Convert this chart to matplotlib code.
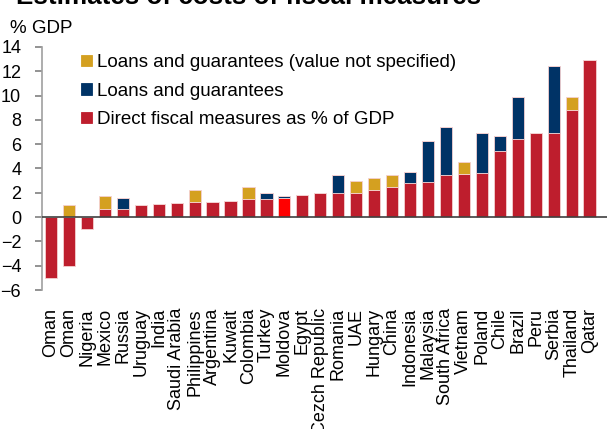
import numpy as np
import matplotlib.pyplot as plt

plt.rcParams['font.family'] = ['Liberation Sans', 'DejaVu Sans']

countries = ['Oman', 'Oman', 'Nigeria', 'Mexico', 'Russia', 'Uruguay', 'India',
             'Saudi Arabia', 'Philippines', 'Argentina', 'Kuwait', 'Colombia',
             'Turkey', 'Moldova', 'Egypt', 'Cezch Republic', 'Romania', 'UAE',
             'Hungary', 'China', 'Indonesia', 'Malaysia', 'South Africa',
             'Vietnam', 'Poland', 'Chile', 'Brazil', 'Peru', 'Serbia',
             'Thailand', 'Qatar']

# direct fiscal measures, % of GDP
direct = [-5.0, -4.0, -1.0, 0.7, 0.7, 1.0, 1.1, 1.15, 1.2, 1.25, 1.35, 1.45,
          1.45, 1.6, 1.8, 2.0, 2.0, 2.0, 2.25, 2.5, 2.8, 2.85, 3.45, 3.55,
          3.6, 5.45, 6.45, 6.95, 6.95, 8.8, 12.9]
# loans and guarantees
loans = [0, 0, 0, 0, 0.85, 0, 0, 0, 0, 0, 0, 0, 0.5, 0.1, 0, 0, 1.5, 0,
         0, 0, 0.9, 3.45, 3.95, 0, 3.35, 1.2, 3.45, 0, 5.5, 0, 0]
# loans and guarantees, value not specified
unspecified = [0, 1.0, 0, 1.0, 0, 0, 0, 0, 1.0, 0, 0, 1.05, 0, 0, 0, 0, 0,
               1.0, 1.0, 1.0, 0, 0, 0, 1.0, 0, 0, 0, 0, 0, 1.05, 0]

red = '#BE1E2D'
blue = '#003366'
gold = '#D4A020'

x = np.arange(len(countries))
direct = np.array(direct)
loans = np.array(loans)
unspecified = np.array(unspecified)
pos_base = np.clip(direct, 0, None)

fig = plt.figure(figsize=(6.07, 4.29), dpi=100)
ax = fig.add_axes([0.0692, 0.324, 0.9308, 0.5666])

w = 0.68
edge = dict(edgecolor='#F4D0D0', linewidth=0.6)
colors = [red] * len(countries)
colors[countries.index('Moldova')] = '#FF0000'
b1 = ax.bar(x, direct, w, color=colors, **edge)
b2 = ax.bar(x, loans, w, bottom=pos_base, color=blue, **edge)
b3 = ax.bar(x, unspecified, w, bottom=pos_base + loans, color=gold, **edge)

ax.set_xlim(-0.5, 30.97)
ax.set_ylim(-6, 14)
ax.set_yticks(np.arange(-6, 15, 2))
ax.axhline(0, color='#404040', linewidth=1.2, zorder=3)

for s in ['top', 'right', 'bottom']:
    ax.spines[s].set_visible(False)
ax.spines['left'].set_color('#A0A0A0')
ax.spines['left'].set_linewidth(1.2)

ax.tick_params(axis='y', direction='out', length=5, width=1.2, color='#808080',
               labelsize=13, pad=10)
ax.set_xticks(x)
ax.set_xticklabels(countries, rotation=90, fontsize=13)
ax.tick_params(axis='x', length=0, pad=13)

leg = ax.legend([b3, b2, b1],
                ['Loans and guarantees (value not specified)',
                 'Loans and guarantees',
                 'Direct fiscal measures as % of GDP'],
                loc='upper left', bbox_to_anchor=(0.04, 1.04), frameon=False,
                fontsize=13.5, handlelength=0.55, handleheight=0.55,
                handletextpad=0.3, labelspacing=0.62)
for h in leg.legend_handles:
    h.set_color(h.get_facecolor())
leg.legend_handles[2].set_color(red)

fig.text(0.017, 0.953, '% GDP', fontsize=13.5, va='top')
fig.text(0.026, 0.9907, 'Estimates of costs of fiscal measures', fontsize=18.7,
         fontweight='bold', va='baseline')

fig.savefig('out.png', dpi=100)
